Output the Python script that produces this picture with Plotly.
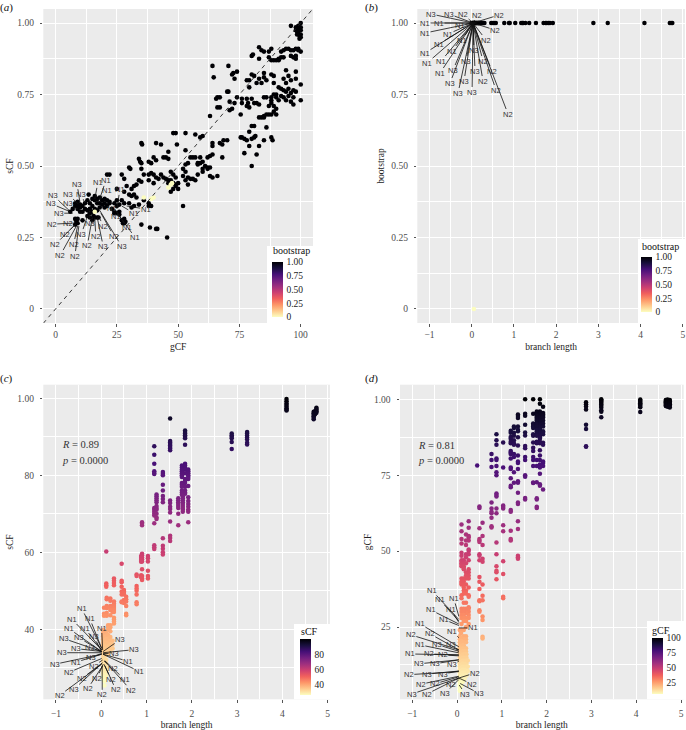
import plotly.graph_objects as go

W, H = 686, 730
SERIF = "Liberation Serif"
SANS = "Liberation Sans"
GREY = "#4d4d4d"

# ---------- data: panel (a) gCF / sCF ----------
a_gcf = [100,96,98,99,100,98.5,99,100,99.5,100,98.5,100,99,99.5,98,
 83,84,85,87,87,83,88,88,89,90,91,92,93,94,95,96,97,98,99,100,96,98,97,98,80,80.5,92,91,93,99,
 64,70.5,64.5,72,73,74,72.5,78,79,80,81,79,85,85,86,84,82,83,88,89,89,94,95,96,98,98,100,93,94,91,92,93,94,95,96,97,98,70,70.5,
 66,67,65.5,71,74,75.5,76,76,78,78.5,79,80,81,82,83,85,86,88,88,89,90,90,91,88,89,90,89,90,87,88,87,86,85,84,83,85,92,93,94,95,96,97,100,97,66,67,71,72,73,63,78,
 80,81,79,75.5,76,77,78,79,77,80,81,81.5,83,82,80,85,86,88,88.5,
 48,49,53,57,59,60,35,35.3,41,43,49.5,53,46,64,64,67,68,68.5,70,63,64,62,68,63,64,66,
 55,56,57,59,58,59,60,61,62,60,62,63,58,57,60,54,53,52,53,54,55,56,52,53,54,58,
 34,34.5,35,30,30.5,21,22,27,28,35,36,38,40,41,39,44,45,46,38,39,40,41,42,38,40,43,44,45,46,47,48,49,47,46,48,49,50,48,47,49,50,34,35,33,32,31,29,28,30,31,32,33,27,28,25,25,26,30,31,32,34,36,38,38,39,52,35,38.5,41,41.5,45.5,
 8,9,10,11,8,9,10,7,6,12,13,14,15,14,13,12,11,10,9,13.5,16,17,18,19,20,21,22,22,20,19,18,17,16,15,21,20,18,17,16,15,14,13,8,9,8.5,9,8,11,14,15,16,17,17.5,15.5,24,25,26,24,25,26,27,28,28.5,28,27.5,23,24]
a_scf = [1.0,.99,.985,.98,.975,.97,.965,.96,.955,.95,.96,.985,.99,.945,.975,
 .915,.905,.90,.90,.88,.875,.91,.87,.87,.87,.875,.90,.905,.91,.91,.905,.905,.91,.91,.90,.885,.885,.88,.875,.885,.89,.88,.87,.88,.905,
 .85,.85,.81,.82,.805,.83,.825,.80,.80,.82,.815,.775,.825,.81,.80,.79,.79,.805,.82,.815,.79,.835,.815,.80,.83,.805,.785,.805,.79,.775,.77,.765,.76,.77,.755,.765,.76,.76,.76,
 .74,.74,.735,.725,.74,.68,.735,.72,.735,.72,.705,.735,.72,.72,.715,.74,.74,.74,.73,.75,.75,.74,.73,.72,.71,.70,.69,.68,.71,.68,.68,.68,.675,.67,.67,.67,.745,.74,.73,.745,.725,.715,.73,.74,.705,.705,.695,.70,.72,.675,.71,
 .64,.64,.62,.60,.60,.595,.59,.57,.545,.595,.60,.605,.57,.54,.50,.59,.635,.60,.59,
 .615,.615,.615,.61,.60,.605,.58,.575,.58,.575,.575,.555,.55,.58,.57,.58,.575,.59,.59,.535,.54,.53,.53,.465,.46,.465,
 .53,.53,.53,.53,.51,.51,.515,.50,.495,.48,.49,.495,.47,.45,.49,.51,.505,.49,.48,.46,.455,.455,.465,.45,.435,.505,
 .525,.515,.51,.495,.49,.47,.47,.47,.455,.49,.47,.515,.53,.52,.51,.53,.53,.525,.47,.475,.47,.46,.455,.45,.44,.47,.46,.455,.45,.45,.47,.46,.48,.44,.44,.435,.44,.42,.41,.43,.42,.45,.445,.435,.43,.42,.43,.41,.40,.395,.40,.39,.38,.37,.42,.38,.365,.37,.355,.36,.365,.38,.37,.36,.36,.36,.295,.285,.28,.28,.25,
 .37,.375,.365,.36,.36,.35,.34,.35,.34,.37,.38,.37,.36,.35,.345,.35,.34,.355,.36,.40,.395,.385,.39,.38,.385,.38,.375,.37,.37,.365,.37,.37,.38,.385,.36,.355,.355,.345,.35,.34,.335,.325,.315,.315,.305,.30,.295,.31,.32,.31,.32,.32,.32,.325,.34,.335,.33,.37,.36,.34,.31,.30,.305,.315,.30,.35,.335]
a_gcf_low = [36,39,40,46,47,47.5,16]
a_scf_low = [.39,.385,.39,.425,.435,.44,.34]
a_boot_low = [0,0,0,0,0,0,0]
identity_x = [-5,105]
identity_y = [-0.05,1.05]

# ---------- data: panel (b) branch length / bootstrap ----------
b_len = [0,.01,.02,.03,.04,.05,.06,.07,.08,.09,.1,.11,.12,.13,.14,.15,.16,.17,.18,.2,.22,.24,.26,.28,.3,
 .46,.5,.53,.57,.77,.88,.9,1.03,1.17,1.2,1.22,1.27,1.36,1.52,1.7,1.75,1.78,1.82,1.85,1.92,2.88,3.22,4.09,4.69,4.72,4.75]
b_boot = [1]*len(b_len)
b_len_low = [.05]
b_boot_low = [0]

# ---------- data: panel (c) branch length -> sCF, per branch-length value ----------
c_table = [
 (4.09,[99.8,99.2,98.6,98.2,97.8,97.4,97,96.8]),
 (4.69,[96.5,96.1,95.7,95.3,94.9,94.5]),
 (4.72,[96.6,96.2,95.8]),
 (4.75,[97.5,97.2,96.9,96.6,96.2]),
 (3.22,[91.2,90.8,90.3,89.8,89.3,88.4,88.0]),
 (2.88,[90.8,90.4,90,89.6,88.6,86.8]),
 (1.52,[94.7,88.9,88.5,88.1,87.7,87.3,86.9,86.5,73.4,72.8,71.8,71.2,70.3,68,64.3,63.7,62.9]),
 (1.85,[91.6,91.2,90.8,90.4,90,89.6,87.9,83,82.5,82,81.5,80.5,79,78.5,78,77,76,75.5,75.2]),
 (1.78,[82.5,82,81.5,81,80.5,80,79.5,78,77.5,77,76,75.5,75]),
 (1.92,[81.5,81,80.5,80,79.5,79,77.2,74.3,73.3,72.5,71.8,71,70.5,67.8]),
 (1.7,[74,73.5,73,72.5,72,71.5,70,67]),
 (1.8,[74.5,74,73.5,73,72.5,72,71.5,71,70.5]),
 (1.17,[87.5,85.3,83,81,80.6,80.3,71.5,71,70.5,70,69.5,67.5,61.8,61.3,60.8]),
 (1.22,[75,74.5,74,73.5,73,72,71.5,71,70,69,68.6]),
 (1.36,[80.8,80.4,80,77.5,76,74.6,73.8,73,63.6,61.7,60.9,60,59.4]),
 (.9,[67.8,67.4,67,59.6,59.2,58.6,58.2,57.6,55.6,53.8,53.2,52.8]),
 (.88,[59,58.5,58,57.5,54,53.5]),
 (1.03,[59,58.4,57.6,55.2,53.8,53.2]),
 (.78,[54.2,53.8,51.2,50.6,50,49,47,46.5]),
 (.45,[57,52.6,52.2,51,49.8,49,47.2,47]),
 (.5,[50.2,49.8,49.4,49,47.6,46.8]),
 (.55,[48.4,47.8,47.2,46,44,43.6]),
 (.28,[53.2,52.6,52,51.4,47.2,46.6,46,45.5,45,44.5,43,42.5,42,41.5]),
 (.25,[46,45.5,45,44.5]),
 (.11,[60.2,51.9,51.4,51]),
 (.12,[48.2,47.8,46,45.5,44.2,43.5]),
 (.2,[48,47.4,46,45.5,45,43.6,41,40.5,39.5]),
 (.06,[45.6,44,43.5]),
 (.04,[39.8,39,38.2,37.4,36.6,35.8,35,34.2,33.4,32.6,31.8,31,30.2,29.4,28.6,27.8,27]),
 (.07,[39.5,38.7,37.9,37.1,36.3,35.5,34.7,33.9,33.1,32.3,31.5,30.7,29.9,29.1,28.3,27.5,26.5,25.4]),
 (.11,[39,38.2,37.4,36.6,35.8,35,34.2,33.4,32,31,30,29,28]),
 (.15,[38.5,37.5,36.5,35.5,34.5,33.8,41,40.5,40]),
 (.2,[38,37,36,35,34.2]),
 (.25,[37,36,35]),
]

# ---------- data: panel (d) branch length -> gCF, per branch-length value ----------
d_table = [
 (4.66,[99.8,99.3,98.9,98.5,98.1,97.8]),
 (4.7,[99.9,99.4,99,98.6,98.2,97.9,97.5]),
 (4.75,[99.8,99.3,98.8,98.4,97.9,97.3]),
 (4.09,[99.9,99.5,99.1,98.7,98.3,97.9,97.4,95.8]),
 (3.22,[100,99.6,99.2,98.8,98.3,97.8,97.2,96.4,95.9,94.1]),
 (2.88,[99,98.4,97.6,96.6,91.6,90.2,84.5,84.4]),
 (1.52,[100,95.2,94.6,91.6,89.1,88.1,84.6,83.9,81,80,75,74.5,67.5,67]),
 (1.7,[100,95.2,92,91.5,91,90.5,88.5,88,85.8,84,83,81,80,78,72.6,72.4]),
 (1.85,[100,98.5,96,95.5,95,94,93.5,93,92.5,92,91.5,91,90.5,90,89.5,89,88.5,88,87.5,87,86,85.5,83.2,81.5,80,78.5,77.5,75.5,72,71.5]),
 (1.78,[96,95.5,95,94.5,94,93.5,93,92,91.5,91,90,89.5,88.5,88,86,85.5,80,78,72.7,67.4,67,64.6,64.2]),
 (1.92,[97.5,95.5,95,94.5,94,93,92,91,89.5,89,88.5,85.7,85,79.5,79,78,70.3]),
 (1.36,[95,94.5,93.8,91,90,89.5,87.5,84.8,81.5,79.5,79,77,73,72.5,69.2,66,65.5,59.8,57.3,48.5,48,47.5]),
 (1.2,[89.6,89,87.6,87,86,85.5,83,82.5,82,80.5,77.5,77,74,71.5,71,63.5,63,56.7,54,53.5]),
 (1.27,[91,90.5,89,88,86.5,85.5,85,82,81,76,72.5]),
 (1.03,[85.8,77.5,65,64.5,64,58.5,56.5,46.7,42.5,35,34.5]),
 (.88,[88.5,86.5,85,80.5,80,78,76,75,69,68.5,68,64,62.5,52.8,49,45,43.5,43,40.7]),
 (.77,[82,80,77.7,66,64,63,62.5,61,58.2,57.8]),
 (.45,[78.2]),
 (.5,[64.7,64.2,57.5,54,53.5,53,49,48.5,47,41.5,39.9,37.5,33.8,33.5,30.5,30]),
 (.57,[59.3,55,52,47.5,46.5,39,35.3,33.8,28.5,27.3,21.8,21.2]),
 (.26,[59.8,57.7,55,54.5,53.5,50.5,50,49,47,44,43,42,41,38,35.5,35,31.5,31,30,29,28,26]),
 (.2,[55.5,53.5,52,49,48,46,43,42,41,39,37,36,33,31,30,29.5,28,27,25,22,21,20,18,17]),
 (.1,[58.8,56.5,54,52.5,49.5,48.5,47,46.5,46,45.5,45,41,40,39.5,39,35.5,34.5,31,30,29,28,26,24]),
 (.15,[47,46,45,44.5,44,41,40,39,38,37,36,33,31,30,29,28,27,24,22,21,20,19,18]),
 (.06,[24,22,21,20,19,18,17,16,15,14,13,12,11,10,9,8,7,6,5,4]),
 (.09,[23,21.5,20.5,19.5,18.5,17.5,16.5,15.5,14.5,13.5,12.5,11.5,10.5,9.5,8.5,7.5,6.5,5.5]),
 (.13,[20,19,18,17,16,15,14,13,12,11,10,9,8,7]),
 (.17,[17,16,15,14,13,12,11,10,9,8]),
 (.21,[16,15,14,13,12,11,10,9]),
 (.24,[14,12,10.5]),
]

# ---------- repel labels: text, point x, point y, label offset (px) ----------
a_labels = [("N3",10,.37,-3,-19),("N1",16,.385,3,-16),("N1",18,.385,6,-18),("N3",5.5,.345,-16,-15),("N3",9,.37,-10,-9),
 ("N3",12,.37,-4,-9),("N1",18,.385,7,-8),("N3",6,.34,-19,-8),("N3",9,.35,-10,-5),("N3",7,.335,-14,0),("N2",7,.30,-21,1),
 ("N2",8,.305,-7,2),("N2",8,.295,-10,10),("N2",8,.295,-20,20),("N2",9,.29,-4,18),("N2",8.5,.29,-16,29),("N2",9.5,.29,-4,30),
 ("N3",13,.325,-6,18),("N3",14,.33,0,9),("N2",15,.32,-5,28),("N2",16,.32,1,19),("N3",17,.32,6,29),("N2",17.5,.325,5,10),
 ("N2",18.5,.335,13,23),("N3",18,.345,22,36),("N1",25,.35,3,-19),("N1",29,.36,19,3),("N1",27,.36,12,7),("N1",24,.345,2,6),
 ("N1",25,.34,10,16),("N1",24,.35,21,29),("N1",22,.355,2,1)]
b_offsets = [("N3",-42,-9),("N3",-24,-9),("N2",-10,-9),("N2",4,-8),("N2",26,-8),("N1",-48,0),("N1",-34,0),("N1",-13,2),
 ("N2",22,7),("N1",-48,10),("N1",-25,11),("N1",-34,21),("N2",13,17),("N1",-11,17),("N1",-48,30),("N1",-21,28),("N3",1,27),
 ("N1",-46,40),("N1",-32,38),("N3",-7,38),("N2",10,38),("N1",-33,50),("N3",-20,47),("N3",2,48),("N2",19,48),("N3",-23,60),
 ("N3",-9,58),("N2",10,58),("N3",-15,70),("N3",-1,69),("N2",23,67),("N2",35,91)]
b_labels = [(t,.03,1.0,dx,dy) for t,dx,dy in b_offsets]
c_labels = [("N1",.01,35,-20,-40),("N1",.01,34.6,-30,-31),("N1",.01,35,-12,-30),("N1",.01,34.2,-33,-23),("N1",.01,34.6,-17,-22),
 ("N1",.03,34.6,-1,-22),("N3",.01,34.2,-38,-13),("N3",.01,34.2,-23,-14),("N3",.01,34.2,-8,-15),("N3",.04,34.2,17,-12),
 ("N3",.01,34.2,-26,-3),("N3",.01,34.2,-12,-4),("N3",.01,33.9,-40,0),("N3",.04,33.9,31,-3),("N3",.04,33.7,11,0),
 ("N3",.01,33.7,-11,4),("N1",.01,33.5,-26,8),("N3",.01,33.5,-47,10),("N1",.04,33.5,25,7),("N1",.04,33.5,36,17),
 ("N2",.01,32.4,-33,14),("N2",.03,32,-9,6),("N2",.06,31.8,9,8),("N2",.03,31.3,-21,16),("N2",.04,30.9,-6,14),("N2",.06,30.9,7,15),
 ("N1",.08,31.8,20,19),("N3",.01,31.1,-28,26),("N2",.03,30.5,-15,23),("N2",.08,30.5,11,24),("N2",.08,31.7,26,29),
 ("N2",.02,30.5,0,29),("N2",.01,30.9,-42,31)]
d_labels = [("N1",.04,27.5,-27,-29),("N1",.04,27,-19,-21),("N1",.04,28.5,-5,-18),("N1",.04,26.5,-8,-13),("N1",.04,26,-28,-14),
 ("N1",.04,25.5,-15,-6),("N1",.04,18.5,-39,-23),("N1",.04,24.7,14,0),("N1",.04,21.5,-7,-6),("N2",.04,17.5,-48,-15),
 ("N2",.04,17.5,-29,-16),("N3",.04,17,-22,-7),("N3",.04,17,-8,-7),("N1",.04,16.5,-39,-8),("N1",.04,15.8,-49,-1),
 ("N2",.04,15.8,-30,-1),("N2",.04,15.5,-16,-1),("N3",.04,14.2,-40,4),("N3",.04,14.2,-24,4),("N3",.04,13.7,-7,3),
 ("N2",.04,10.3,-50,3),("N3",.04,10.5,-32,3),("N3",.04,10.5,-16,3),("N2",.04,8.2,16,-5),("N2",.04,8.8,-38,8),
 ("N2",.04,8.6,-24,7),("N2",.04,8.2,-8,6),("N2",.04,8.2,13,6),("N3",.04,8.2,-47,16),("N2",.04,8.2,-32,16),
 ("N3",.04,7.7,-14,14),("N3",.05,5.9,6,9),("N3",.07,6.4,19,10)]

c_len = [x for x, ys in c_table for _ in ys]
c_scf = [y for _, ys in c_table for y in ys]
d_len = [x for x, ys in d_table for _ in ys]
d_gcf = [y for _, ys in d_table for y in ys]

# ---------- layout geometry (pixels in the 686x730 page) ----------
panels = {
 "a": dict(box=(43.3,313,9,323), xr=(-5,105), yr=(-.049,1.049),
           xt=[0,25,50,75,100], xl=["0","25","50","75","100"], xm=[12.5,37.5,62.5,87.5],
           yt=[0,.25,.5,.75,1], yl=["0","0.25","0.50","0.75","1.00"], ym=[.125,.375,.625,.875],
           xtitle="gCF", ytitle="sCF", tag=(7,8), xpad=0, xst=4, yst=1),
 "b": dict(box=(417.3,685,9,323), xr=(-1.29,5.05), yr=(-.049,1.049),
           xt=[-1,0,1,2,3,4,5], xl=["−1","0","1","2","3","4","5"], xm=[-.5,.5,1.5,2.5,3.5,4.5],
           yt=[0,.25,.5,.75,1], yl=["0","0.25","0.50","0.75","1.00"], ym=[.125,.375,.625,.875],
           xtitle="branch length", ytitle="bootstrap", tag=(371,8), xpad=0, xst=4, yst=4),
 "c": dict(box=(43.3,330,384.7,699.3), xr=(-1.28,5.05), yr=(21.8,103.5),
           xt=[-1,0,1,2,3,4,5], xl=["−1","0","1","2","3","4","5"], xm=[-.5,.5,1.5,2.5,3.5,4.5],
           yt=[40,60,80,100], yl=["40","60","80","1.00"], ym=[30,50,70,90],
           xtitle="branch length", ytitle="sCF", tag=(7,378), xpad=3, xst=5, yst=1),
 "d": dict(box=(400,683.7,384.7,699.3), xr=(-1.273,5.06), yr=(1.2,104.8),
           xt=[-1,0,1,2,3,4,5], xl=["−1","0","1","2","3","4","5"], xm=[-.5,.5,1.5,2.5,3.5,4.5],
           yt=[25,50,75,100], yl=["25","50","75","1.00"], ym=[12.5,37.5,62.5,87.5],
           xtitle="branch length", ytitle="gCF", tag=(371,378), xpad=3, xst=5, yst=0),
}
legends = {
 "a": dict(box=(267,313,246,323), bar=(272,262,317), title="bootstrap", title_pos=(272,251), cmin=0, cmax=1,
           tv=[0,.25,.5,.75,1], tt=["0","0.25","0.50","0.75","1.00"]),
 "b": dict(box=(638,685,239,323), bar=(641,257,312), title="bootstrap", title_pos=(641,246), cmin=0, cmax=1,
           tv=[0,.25,.5,.75,1], tt=["0","0.25","0.50","0.75","1.00"]),
 "c": dict(box=(294,330,624,699.3), bar=(300,639,695), title="sCF", title_pos=(300,631), cmin=26.5, cmax=100,
           tv=[40,60,80], tt=["40","60","80"]),
 "d": dict(box=(647,684,621,699.3), bar=(652,638,694), title="gCF", title_pos=(651,630), cmin=6, cmax=100,
           tv=[25,50,75,100], tt=["25","50","75","100"]),
}
suffix = {"a":"","b":"2","c":"3","d":"4"}

fig = go.Figure()
layout = dict(width=W, height=H, margin=dict(l=0,r=0,t=0,b=0), paper_bgcolor="white",
              showlegend=False, font=dict(family=SERIF, size=9, color=GREY))
annotations, shapes = [], []

for key, p in panels.items():
    l, r, t, b = p["box"]
    s = suffix[key]
    tick_font = dict(family=SERIF, size=9.5, color=GREY)
    title_font = dict(family=SERIF, size=9.5, color="#222222")
    layout["xaxis"+s] = dict(domain=[l/W, r/W], range=list(p["xr"]), anchor="y"+s, tickmode="array",
        tickvals=p["xt"], ticktext=p["xl"], showgrid=True, gridcolor="white", gridwidth=1, zeroline=False,
        ticks="outside", ticklen=2.5, tickwidth=.7, tickcolor="#555555", tickfont=tick_font, ticklabelstandoff=p["xpad"],
        minor=dict(tickvals=p["xm"], showgrid=True, gridcolor="white", gridwidth=.5, ticks=""),
        title=dict(text=p["xtitle"], font=title_font, standoff=p["xst"]), automargin=False)
    layout["yaxis"+s] = dict(domain=[1-b/H, 1-t/H], range=list(p["yr"]), anchor="x"+s, tickmode="array",
        tickvals=p["yt"], ticktext=p["yl"], showgrid=True, gridcolor="white", gridwidth=1, zeroline=False,
        ticks="outside", ticklen=2.5, tickwidth=.7, tickcolor="#555555", tickfont=tick_font, ticklabelstandoff=4,
        minor=dict(tickvals=p["ym"], showgrid=True, gridcolor="white", gridwidth=.5, ticks=""),
        title=dict(text=p["ytitle"], font=title_font, standoff=p["yst"]), automargin=False)
    layout["plot_bgcolor"] = "#EBEBEB"
    annotations.append(dict(xref="paper", yref="paper", x=p["tag"][0]/W, y=1-p["tag"][1]/H, showarrow=False,
                            xanchor="center", yanchor="middle", text=f"(<i>{key}</i>)",
                            font=dict(family=SERIF, size=11, color="#111111")))


def scatter(key, x, y, c, size):
    s = suffix[key]
    lg = legends[key]
    left, top, bottom = lg["bar"]
    l, r, t, b = lg["box"]
    shapes.append(dict(type="rect", xref="paper", yref="paper", x0=l/W, x1=r/W, y0=1-b/H, y1=1-t/H,
                       fillcolor="white", line_width=0, layer="above"))
    annotations.append(dict(xref="paper", yref="paper", x=lg["title_pos"][0]/W, y=1-lg["title_pos"][1]/H,
                            text=lg["title"], showarrow=False, xanchor="left", yanchor="middle", borderpad=0,
                            font=dict(family=SERIF, size=10, color="#111111")))
    fig.add_trace(go.Scatter(x=x, y=y, xaxis="x"+s, yaxis="y"+s, mode="markers",
        marker=dict(size=size, color=c, cmin=lg["cmin"], cmax=lg["cmax"], colorscale="Magma", reversescale=True,
                    line_width=0, showscale=True,
                    colorbar=dict(x=left/W, xanchor="left", y=1-bottom/H, yanchor="bottom", xpad=0, ypad=0,
                                  thickness=11, thicknessmode="pixels", len=bottom-top, lenmode="pixels",
                                  outlinewidth=0, ticks="outside", ticklen=2, tickcolor="rgba(0,0,0,0)",
                                  tickmode="array", tickvals=lg["tv"], ticktext=lg["tt"],
                                  tickfont=dict(family=SERIF, size=9.5, color="#222222")))))


def add_labels(key, labels):
    s = suffix[key]
    for text, x, y, dx, dy in labels:
        annotations.append(dict(xref="x"+s, yref="y"+s, x=x, y=y, text=text, ax=dx, ay=dy, axref="pixel", ayref="pixel",
                                showarrow=True, arrowhead=0, arrowwidth=.8, arrowcolor="#111111", standoff=0, borderpad=0,
                                font=dict(family=SANS, size=7.5, color="#333333")))


# panel (a)
scatter("a", a_gcf + a_gcf_low, a_scf + a_scf_low, [1]*len(a_gcf) + a_boot_low, 4.6)
fig.add_trace(go.Scatter(x=identity_x, y=identity_y, xaxis="x", yaxis="y", mode="lines",
                         line=dict(color="#222222", width=.9, dash="4px,4px"), hoverinfo="skip"))
add_labels("a", a_labels)
# panel (b)
scatter("b", b_len + b_len_low, b_boot + b_boot_low, b_boot + b_boot_low, 4.5)
add_labels("b", b_labels)
# panel (c)
scatter("c", c_len, c_scf, c_scf, 4.5)
add_labels("c", c_labels)
# panel (d)
scatter("d", d_len, d_gcf, d_gcf, 4.5)
add_labels("d", d_labels)

stat_font = dict(family=SERIF, size=10.5, color="#333333")
for s, x, y, txt in [("3",-.91,87.9,"<i>R</i> = 0.89"),("3",-.91,83.8,"<i>p</i> = 0.0000"),
                     ("4",-.91,84.9,"<i>R</i> = 0.81"),("4",-.91,79.8,"<i>p</i> = 0.0000")]:
    annotations.append(dict(xref="x"+s, yref="y"+s, x=x, y=y, text=txt, showarrow=False, xanchor="left", font=stat_font))

layout["annotations"] = annotations
layout["shapes"] = shapes
fig.update_layout(**layout)
fig.write_html("out.html", config={"displayModeBar": False},
               post_script="document.body.style.margin='0';document.body.style.overflow='hidden';")
